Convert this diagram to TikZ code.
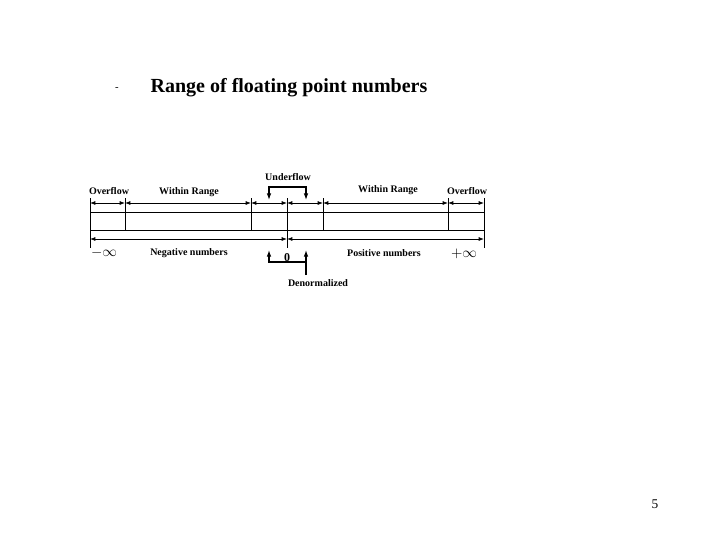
\documentclass[tikz,border=0pt]{standalone}
\usepackage{fontspec}
\setmainfont{Liberation Serif}
\usetikzlibrary{arrows.meta}
\begin{document}
\begin{tikzpicture}[x=0.75pt,y=-0.75pt,
  lbl/.style={font=\fontsize{7.5}{8}\selectfont\bfseries,inner sep=0pt},
  ln/.style={line width=0.6pt},
  dim/.style={line width=0.6pt,{Latex[length=4pt,width=3pt]}-{Latex[length=4pt,width=3pt]}},
  up/.style={line width=0.9pt,-{Latex[length=5pt,width=3.5pt]}}]
\useasboundingbox (0,0) rectangle (720,540);
\node[font=\fontsize{15}{18}\selectfont\bfseries] (title) at (289,88) {Range of floating point numbers};
\node[font=\fontsize{8}{9}\selectfont] (dash) at (117,89) {-};
% vertical ticks
\foreach \n/\x in {a/90,b/125,c/251,d/287,e/323,f/448,g/484}{
  \coordinate (t\n) at (\x,198); \coordinate (m\n) at (\x,203);
  \coordinate (l\n) at (\x,239);}
\draw[ln] (90,198) -- (90,248);
\draw[ln] (484,198) -- (484,248);
\draw[ln] (287,198) -- (287,248);
\foreach \x in {125,251,323,448} \draw[ln] (\x,198) -- (\x,230);
\draw[ln] (90,212) -- (484,212);
\draw[ln] (90,230) -- (484,230);
\foreach \p/\q in {a/b,b/c,c/d,d/e,e/f,f/g} \draw[dim] (m\p) -- (m\q);
\draw[dim] (la) -- (ld);
\draw[dim] (ld) -- (lg);
% underflow bracket
\coordinate (u1) at (269,200); \coordinate (u2) at (306,200);
\draw[up] (306,187) -- (269,187) -- (u1);
\draw[up] (269,187) -- (306,187) -- (u2);
\node[lbl] (under) at (288,177) {Underflow};
% denormalized bracket
\coordinate (d1) at (269,250); \coordinate (d2) at (306,250);
\draw[up] (306,262) -- (269,262) -- (d1);
\draw[up] (306,275) -- (306,262) -- (d2);
\node[lbl] (den) at (318,283) {Denormalized};
\node[lbl] (o1) at (109,191) {Overflow};
\node[lbl] (w1) at (189,192) {Within Range};
\node[lbl] (w2) at (388,190) {Within Range};
\node[lbl] (o2) at (467,191) {Overflow};
\node[font=\fontsize{11}{12}\selectfont\bfseries,inner sep=0pt] (mi) at (104,253) {$-\infty$};
\node[lbl] (neg) at (189,253) {Negative numbers};
\node[lbl,font=\fontsize{9}{10}\selectfont\bfseries] (zero) at (287,258) {0};
\node[lbl] (pos) at (384,253) {Positive numbers};
\node[font=\fontsize{11}{12}\selectfont\bfseries,inner sep=0pt] (pi) at (464,254) {$+\infty$};
\node[font=\fontsize{10}{12}\selectfont] (pg) at (655,504) {5};
\end{tikzpicture}
\end{document}
